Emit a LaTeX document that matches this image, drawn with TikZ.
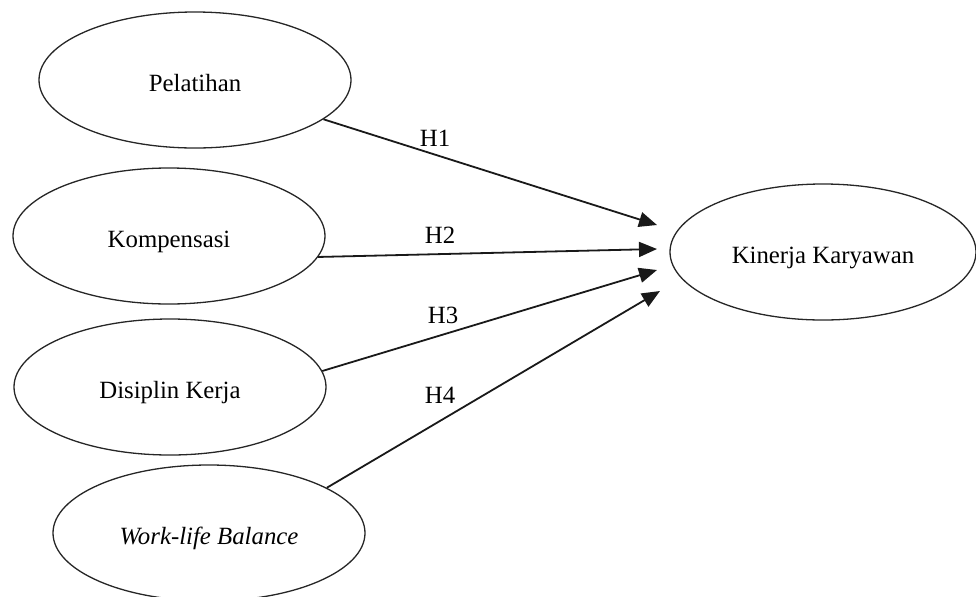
\documentclass[tikz,border=0pt]{standalone}
\usepackage{fontspec}
\setmainfont{Liberation Serif}
\usetikzlibrary{shapes.geometric,arrows.meta}
\begin{document}
\begin{tikzpicture}[x=0.5pt,y=-0.5pt,
  var/.style={draw=black!85,line width=0.65pt,ellipse,inner sep=0pt,
    minimum width=156pt,minimum height=68pt,font=\fontsize{12.4}{14}\selectfont,
    text height=11.5pt,text depth=0pt},
  hyp/.style={draw=black!90,line width=0.9pt,-{Triangle[length=9pt,width=7.5pt]}},
  hlab/.style={font=\fontsize{12.4}{14}\selectfont}]
\useasboundingbox (0,0) rectangle (976,596);
\node[var] (pel) at (195,80) {Pelatihan};
\node[var] (komp) at (169,236) {Kompensasi};
\node[var] (dis) at (170,387) {Disiplin Kerja};
\node[var] (wlb) at (209,533) {\itshape Work-life Balance};
\node[var,minimum width=153pt] (kin) at (823,252) {Kinerja Karyawan};
\coordinate (t1) at (657,225);
\coordinate (t2) at (657,249);
\coordinate (t3) at (657,270);
\coordinate (t4) at (660,291);
\draw[hyp] (pel.-17) -- (t1);
\draw[hyp] (komp.-8) -- (t2);
\draw[hyp] (dis.6) -- (t3);
\draw[hyp] (wlb.21) -- (t4);
\node[hlab] (h1) at (435,138) {H1};
\node[hlab] (h2) at (440,235) {H2};
\node[hlab] (h3) at (443,315) {H3};
\node[hlab] (h4) at (440,395) {H4};
\end{tikzpicture}
\end{document}
